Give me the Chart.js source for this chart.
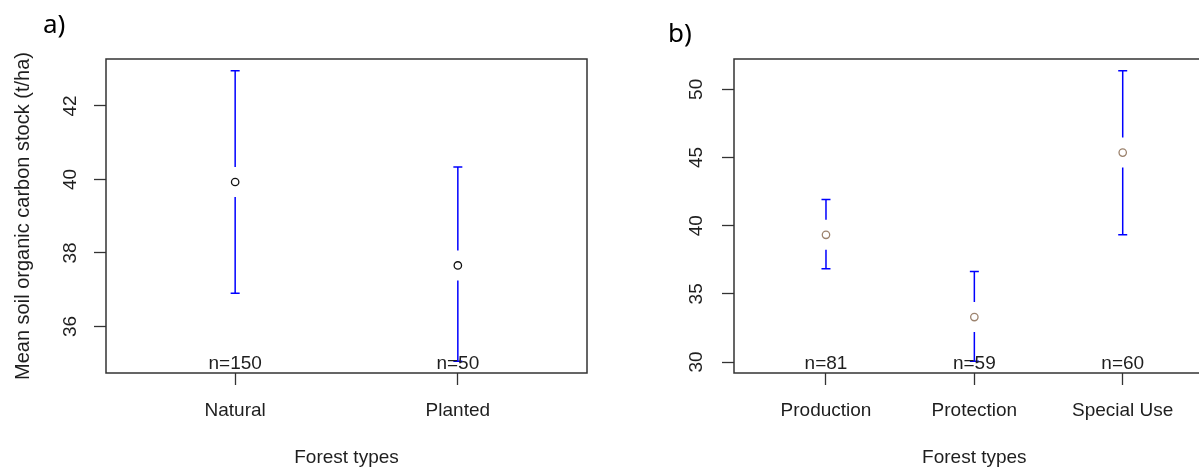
<!DOCTYPE html>
<html>
<head>
<meta charset="utf-8">
<script src="https://cdn.jsdelivr.net/npm/chart.js@4.4.0/dist/chart.umd.min.js"></script>
<style>
  html, body { margin: 0; padding: 0; background: #fff; width: 1199px; height: 469px; overflow: hidden; }
  .panel { position: absolute; top: 0; height: 469px; }
</style>
</head>
<body>
<div class="panel" style="left:0;width:600px"><canvas id="chartA" width="600" height="469"></canvas></div>
<div class="panel" style="left:600px;width:620px"><canvas id="chartB" width="620" height="469"></canvas></div>
<script>
// panel a) natural vs planted
const typesA = ['Natural', 'Planted'];
const meansA = [39.93, 37.66];
const lowerA = [36.90, 35.05];
const upperA = [42.96, 40.34];
const countsA = [150, 50];
const yTicksA = [36, 38, 40, 42];

// panel b) forest function
const typesB = ['Production', 'Protection', 'Special Use'];
const meansB = [39.33, 33.30, 45.36];
const lowerB = [36.84, 30.05, 39.34];
const upperB = [41.92, 36.64, 51.37];
const countsB = [81, 59, 60];
const yTicksB = [30, 35, 40, 45, 50];

const FONT = '"Liberation Sans", Arial, sans-serif';
const TEXT = '#1e1e1e';
const AXIS = '#333';

// draws the frame, the CI bars, rotated y labels, n= counts and the panel tag
const meansPlot = (cfg) => ({
  id: 'meansPlot',
  afterDraw(chart) {
    const { ctx, chartArea: a, scales: { x, y } } = chart;
    ctx.save();

    // box
    ctx.strokeStyle = AXIS;
    ctx.lineWidth = 1.5;
    ctx.strokeRect(a.left, a.top, a.right - a.left, a.bottom - a.top);

    // error bars with a gap round the mean
    ctx.strokeStyle = '#0000ff';
    ctx.lineWidth = 1.5;
    const gap = 15, cap = 4.5;
    cfg.means.forEach((m, i) => {
      const px = x.getPixelForValue(i + 1);
      const pm = y.getPixelForValue(m);
      const pu = y.getPixelForValue(cfg.upper[i]);
      const pl = y.getPixelForValue(cfg.lower[i]);
      ctx.beginPath();
      ctx.moveTo(px, pu); ctx.lineTo(px, pm - gap);
      ctx.moveTo(px, pm + gap); ctx.lineTo(px, pl);
      ctx.moveTo(px - cap, pu); ctx.lineTo(px + cap, pu);
      ctx.moveTo(px - cap, pl); ctx.lineTo(px + cap, pl);
      ctx.stroke();
    });

    // y tick labels, parallel to the axis like R does
    ctx.fillStyle = TEXT;
    ctx.font = '19px ' + FONT;
    ctx.textAlign = 'center';
    ctx.textBaseline = 'middle';
    y.ticks.forEach(t => {
      ctx.save();
      ctx.translate(a.left - cfg.labelOffset, y.getPixelForValue(t.value));
      ctx.rotate(-Math.PI / 2);
      ctx.fillText(String(t.value), 0, 0);
      ctx.restore();
    });

    // sample sizes along the bottom of the box
    ctx.textBaseline = 'alphabetic';
    cfg.counts.forEach((n, i) => {
      ctx.fillText('n=' + n, x.getPixelForValue(i + 1), a.bottom - 4);
    });

    // panel tag
    ctx.font = '26px "Noto Sans", "Open Sans", sans-serif';
    ctx.textAlign = 'left';
    ctx.fillStyle = '#000';
    ctx.fillText(cfg.tag, cfg.tagX, cfg.tagY);

    ctx.restore();
  }
});

function makeChart(id, cfg) {
  const lo = Math.min(...cfg.lower), hi = Math.max(...cfg.upper);
  const padY = (hi - lo) * 0.04;
  const k = cfg.types.length;
  const padX = k * 0.04;

  return new Chart(document.getElementById(id), {
    type: 'scatter',
    data: {
      datasets: [{
        data: cfg.means.map((m, i) => ({ x: i + 1, y: m })),
        pointStyle: 'circle',
        pointRadius: 3.7,
        pointBorderWidth: 1.3,
        pointBorderColor: cfg.pointColor,
        pointBackgroundColor: 'rgba(0,0,0,0)'
      }]
    },
    options: {
      responsive: false,
      animation: false,
      events: [],
      layout: { padding: { left: 0, top: 59, right: cfg.rightPad, bottom: 0 } },
      plugins: { legend: { display: false }, tooltip: { enabled: false } },
      scales: {
        x: {
          type: 'linear',
          min: 0.5 - padX,
          max: k + 0.5 + padX,
          afterBuildTicks: s => { s.ticks = cfg.types.map((_, i) => ({ value: i + 1 })); },
          afterFit: s => { s.height = 96; },
          border: { display: false },
          grid: { drawOnChartArea: false, drawTicks: true, tickLength: 12, tickColor: AXIS, tickWidth: 1.3 },
          ticks: {
            autoSkip: false, maxRotation: 0, padding: 14,
            color: TEXT, font: { family: FONT, size: 19 },
            callback: (v, i) => cfg.types[i]
          },
          title: {
            display: true, text: 'Forest types', color: TEXT,
            font: { family: FONT, size: 19 }, padding: { top: 0, bottom: 0 }
          }
        },
        y: {
          type: 'linear',
          min: lo - padY,
          max: hi + padY,
          afterBuildTicks: s => { s.ticks = cfg.yTicks.map(v => ({ value: v })); },
          afterFit: s => { s.width = cfg.leftWidth; },
          border: { display: false },
          grid: { drawOnChartArea: false, drawTicks: true, tickLength: 12, tickColor: AXIS, tickWidth: 1.3 },
          ticks: { color: 'rgba(0,0,0,0)', font: { family: FONT, size: 19 } },
          title: {
            display: !!cfg.yTitle, text: cfg.yTitle || '', color: TEXT,
            font: { family: FONT, size: 20 }, padding: { top: 11, bottom: 0 }
          }
        }
      }
    },
    plugins: [meansPlot(cfg)]
  });
}

makeChart('chartA', {
  types: typesA, means: meansA, lower: lowerA, upper: upperA, counts: countsA,
  yTicks: yTicksA, pointColor: '#111',
  leftWidth: 106, rightPad: 13, labelOffset: 35,
  yTitle: 'Mean soil organic carbon stock (t/ha)',
  tag: 'a)', tagX: 43, tagY: 33
});

makeChart('chartB', {
  types: typesB, means: meansB, lower: lowerB, upper: upperB, counts: countsB,
  yTicks: yTicksB, pointColor: '#9c836e',
  leftWidth: 134, rightPad: 5, labelOffset: 37,
  yTitle: '',
  tag: 'b)', tagX: 68, tagY: 42
});
</script>
</body>
</html>
